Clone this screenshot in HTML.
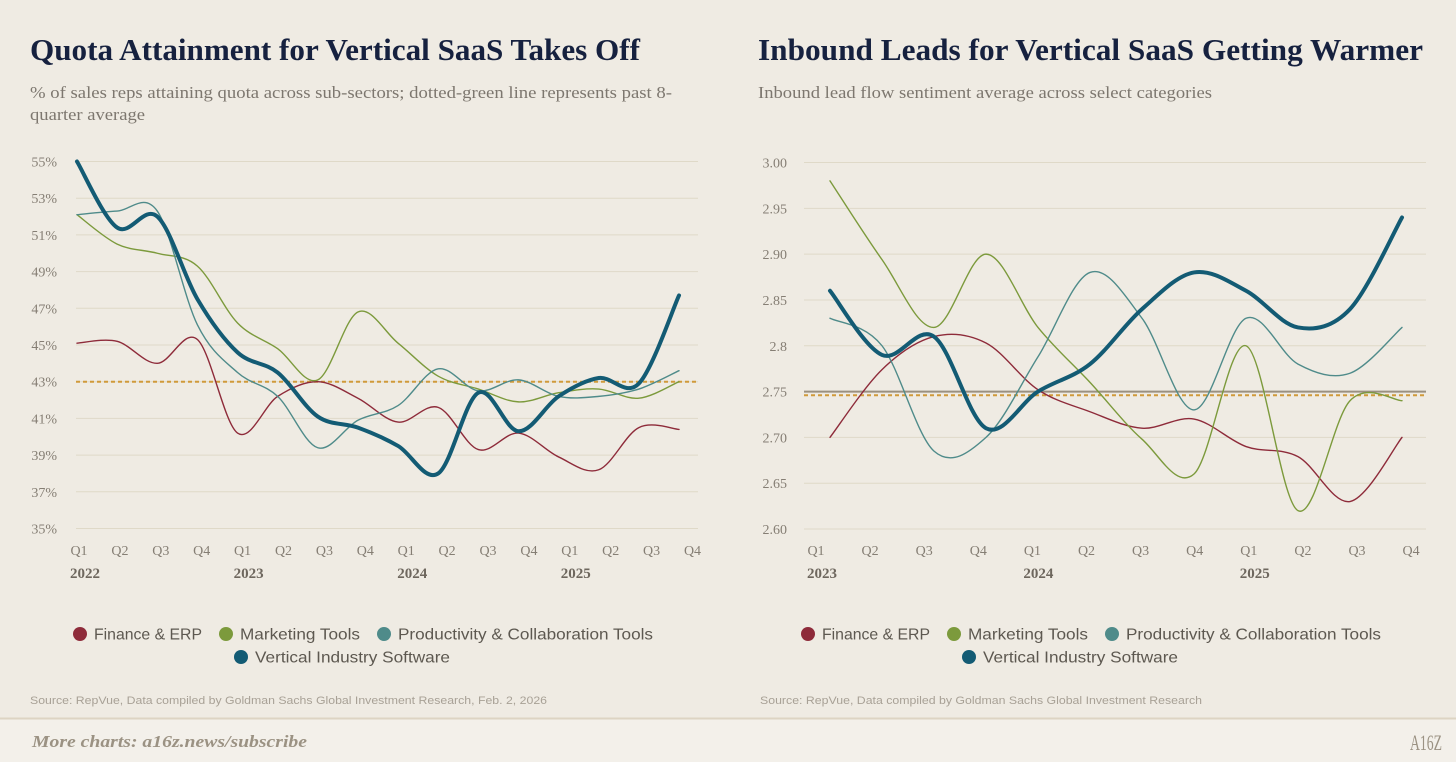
<!DOCTYPE html>
<html><head><meta charset="utf-8"><style>
html,body{margin:0;padding:0;background:#efebe3;}
svg{display:block;}
</style></head><body>
<svg id="s" width="1456" height="762" viewBox="0 0 1456 762" xmlns="http://www.w3.org/2000/svg">
<rect x="0" y="0" width="1456" height="762" fill="#efebe3"/>
<rect x="0" y="718" width="1456" height="44" fill="#f3f0ea"/>
<line x1="0" y1="718.5" x2="1456" y2="718.5" stroke="#ddd4c3" stroke-width="2"/>
<text x="30" y="60" font-family="Liberation Serif, serif" font-weight="bold" font-size="31" fill="#16213f" textLength="610" lengthAdjust="spacingAndGlyphs">Quota Attainment for Vertical SaaS Takes Off</text>
<text x="30" y="98" font-family="Liberation Serif, serif" font-size="17" fill="#7d776f" textLength="642" lengthAdjust="spacingAndGlyphs">% of sales reps attaining quota across sub-sectors; dotted-green line represents past 8-</text>
<text x="30" y="120" font-family="Liberation Serif, serif" font-size="17" fill="#7d776f" textLength="115" lengthAdjust="spacingAndGlyphs">quarter average</text>
<text x="758" y="60" font-family="Liberation Serif, serif" font-weight="bold" font-size="31" fill="#16213f" textLength="665" lengthAdjust="spacingAndGlyphs">Inbound Leads for Vertical SaaS Getting Warmer</text>
<text x="758" y="98" font-family="Liberation Serif, serif" font-size="17" fill="#7d776f" textLength="454" lengthAdjust="spacingAndGlyphs">Inbound lead flow sentiment average across select categories</text>
<text x="30" y="704" font-family="Liberation Sans, sans-serif" font-size="11" fill="#a8a196" textLength="517" lengthAdjust="spacingAndGlyphs">Source: RepVue, Data compiled by Goldman Sachs Global Investment Research, Feb. 2, 2026</text>
<text x="760" y="704" font-family="Liberation Sans, sans-serif" font-size="11" fill="#a8a196" textLength="442" lengthAdjust="spacingAndGlyphs">Source: RepVue, Data compiled by Goldman Sachs Global Investment Research</text>
<text x="32" y="747" font-family="Liberation Serif, serif" font-style="italic" font-weight="bold" font-size="17" fill="#9b9283" textLength="275" lengthAdjust="spacingAndGlyphs">More charts: a16z.news/subscribe</text>
<text x="1410" y="750" font-family="Liberation Serif, serif" font-size="22" fill="#9b9283" textLength="32" lengthAdjust="spacingAndGlyphs">A16Z</text>
<g id="L"></g><g id="R"></g>
</svg>
<script>
const colors=["#8e2b3a","#7c9a3c","#4f8b8a","#135b74"];
const seriesNames=["Finance & ERP","Marketing Tools","Productivity & Collaboration Tools","Vertical Industry Software"];
// Left chart data
const leftQuarters=["Q1","Q2","Q3","Q4","Q1","Q2","Q3","Q4","Q1","Q2","Q3","Q4","Q1","Q2","Q3","Q4"];
const leftYears=["2022","2023","2024","2025"];
const leftTicks=[35,37,39,41,43,45,47,49,51,53,55];
const leftFinance=[45.1,45.2,44.0,45.3,40.2,42.2,43.0,42.1,40.8,41.6,39.3,40.2,38.9,38.2,40.5,40.4];
const leftMarketing=[52.1,50.5,50.0,49.3,46.2,44.8,43.1,46.8,45.1,43.3,42.6,41.9,42.4,42.6,42.1,43.0];
const leftProductivity=[52.1,52.3,52.3,46.1,43.5,42.2,39.4,40.9,41.7,43.7,42.5,43.1,42.2,42.2,42.6,43.6];
const leftVertical=[55.0,51.4,52.0,47.5,44.6,43.5,41.1,40.5,39.5,38.0,42.4,40.3,42.2,43.2,42.9,47.7];
const leftAvg=43.0;
// Right chart data
const rightQuarters=["Q1","Q2","Q3","Q4","Q1","Q2","Q3","Q4","Q1","Q2","Q3","Q4"];
const rightYears=["2023","2024","2025"];
const rightTicks=["2.60","2.65","2.70","2.75","2.8","2.85","2.90","2.95","3.00"];
const rightFinance=[2.70,2.774,2.81,2.803,2.752,2.728,2.71,2.72,2.69,2.679,2.63,2.70];
const rightMarketing=[2.98,2.894,2.82,2.90,2.82,2.76,2.698,2.66,2.80,2.62,2.74,2.74];
const rightProductivity=[2.83,2.80,2.685,2.70,2.788,2.88,2.83,2.73,2.83,2.78,2.77,2.82];
const rightVertical=[2.86,2.79,2.81,2.71,2.75,2.78,2.84,2.88,2.86,2.82,2.84,2.94];
const rightRef=2.75, rightAvg=2.746;

const NS="http://www.w3.org/2000/svg";
function mk(parent,tag,attrs,text){const e=document.createElementNS(NS,tag);for(const k in attrs)e.setAttribute(k,attrs[k]);if(text!==undefined)e.textContent=text;parent.appendChild(e);return e;}
function smooth(pts){let d="M"+pts[0][0]+","+pts[0][1];for(let i=0;i<pts.length-1;i++){const p0=pts[i-1]||pts[i],p1=pts[i],p2=pts[i+1],p3=pts[i+2]||p2;const t=6;d+=" C"+(p1[0]+(p2[0]-p0[0])/t)+","+(p1[1]+(p2[1]-p0[1])/t)+" "+(p2[0]-(p3[0]-p1[0])/t)+","+(p2[1]-(p3[1]-p1[1])/t)+" "+p2[0]+","+p2[1];}return d;}

function chart(g,cfg){
  const y=v=>cfg.y0+(v-cfg.vmin)/(cfg.vmax-cfg.vmin)*(cfg.y1-cfg.y0);
  const x=i=>cfg.px0+i*(cfg.px1-cfg.px0)/(cfg.n-1);
  cfg.ticks.forEach(t=>{const v=parseFloat(t);
    const ln=mk(g,"line",{x1:cfg.gx0,x2:cfg.gx1,y1:y(v),y2:y(v),stroke:"#dfd9c8","stroke-width":1});
    
    
    const tx=mk(g,"text",{x:cfg.lx,y:y(v)+5,"text-anchor":"end","font-family":"Liberation Serif, serif","font-size":14,fill:"#857e74"},t+cfg.suffix);
    
    
  });
  cfg.quarters.forEach((q,i)=>{const cx=cfg.qx0+i*cfg.qstep;
    const tx=mk(g,"text",{x:cx,y:555,"text-anchor":"middle","font-family":"Liberation Serif, serif","font-size":14,fill:"#857e74"},q);
    
    
  });
  cfg.years.forEach((yr,i)=>{const cx=cfg.qx0+i*4*cfg.qstep-9;
    const tx=mk(g,"text",{x:cx,y:578,"font-family":"Liberation Serif, serif","font-weight":"bold","font-size":15,fill:"#6e675e"},yr);
    
    
  });
  if(cfg.ref!==undefined){const r=mk(g,"line",{x1:cfg.gx0,x2:cfg.gx1,y1:y(cfg.ref),y2:y(cfg.ref),stroke:"#9a9080","stroke-width":2});
    
    }
  const a=mk(g,"line",{x1:cfg.gx0,x2:cfg.gx1,y1:y(cfg.avg),y2:y(cfg.avg),stroke:"#d09a3a","stroke-width":2,"stroke-dasharray":"4,3"});
  
  
  cfg.series.forEach((s,k)=>{const pts=s.map((v,i)=>[x(i),y(v)]);
    const p=mk(g,"path",{d:smooth(pts),fill:"none",stroke:colors[k],"stroke-width":k===3?4:1.4,"stroke-linejoin":"round","stroke-linecap":"round"});
    
    
  });
  const leg=[[cfg.ox+80,634],[cfg.ox+226,634],[cfg.ox+384,634],[cfg.ox+241,657]];
  const lw=[108,120,255,195];
  leg.forEach((p,k)=>{
    const c=mk(g,"circle",{cx:p[0],cy:p[1],r:7,fill:colors[k]});
    
    
    const t=mk(g,"text",{x:p[0]+14,y:p[1]+5.5,"font-family":"Liberation Sans, sans-serif","font-size":16,fill:"#5d5850",textLength:lw[k],lengthAdjust:"spacingAndGlyphs"},seriesNames[k]);
    
    
  });
}
chart(document.getElementById("L"),{vmin:35,vmax:55,y0:528.5,y1:161.5,n:16,px0:77,px1:679,gx0:76,gx1:698,lx:57,suffix:"%",
  ticks:leftTicks.map(String),quarters:leftQuarters,years:leftYears,qx0:79,qstep:40.9,avg:leftAvg,ox:0,
  series:[leftFinance,leftMarketing,leftProductivity,leftVertical]});
chart(document.getElementById("R"),{vmin:2.6,vmax:3.0,y0:529,y1:162.5,n:12,px0:830,px1:1402,gx0:804,gx1:1426,lx:787,suffix:"",
  ticks:rightTicks,quarters:rightQuarters,years:rightYears,qx0:816,qstep:54.1,avg:rightAvg,ref:rightRef,ox:728,
  series:[rightFinance,rightMarketing,rightProductivity,rightVertical]});
</script>
</body></html>
